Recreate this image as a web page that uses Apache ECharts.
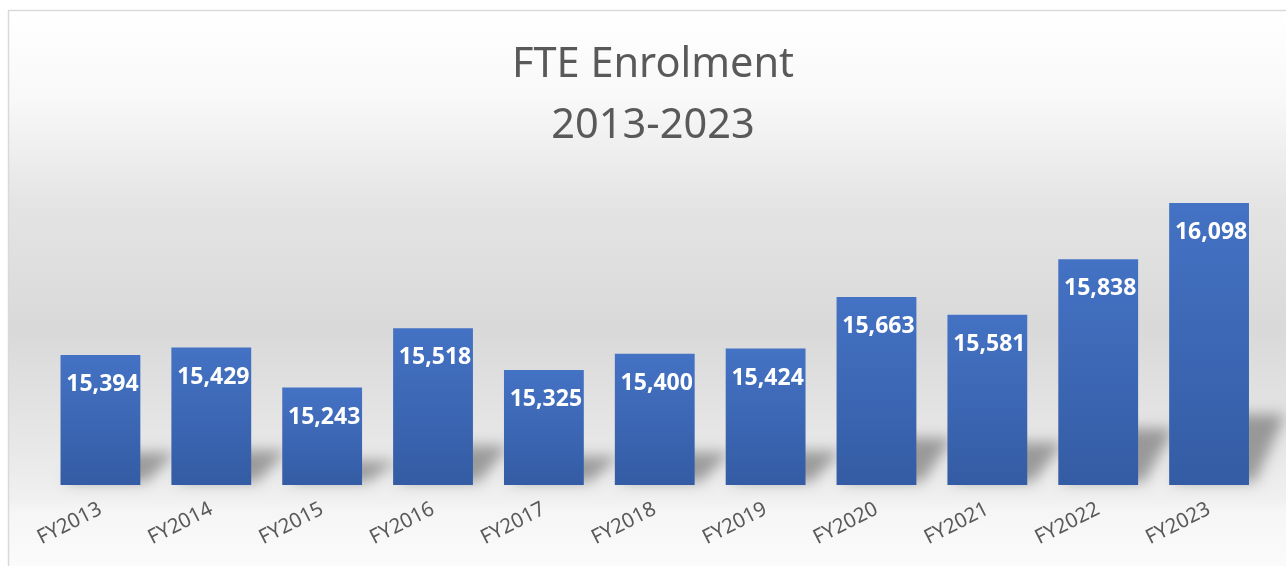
<!DOCTYPE html>
<html>
<head>
<meta charset="utf-8">
<script src="https://cdn.jsdelivr.net/npm/echarts@6/dist/echarts.min.js"></script>
<style>html,body{margin:0;padding:0;background:#fff;}#c{width:1286px;height:566px;}</style>
</head>
<body>
<div id="c"></div>
<script>
const categories = ['FY2013','FY2014','FY2015','FY2016','FY2017','FY2018','FY2019','FY2020','FY2021','FY2022','FY2023'];
const enrolment = [15394, 15429, 15243, 15518, 15325, 15400, 15424, 15663, 15581, 15838, 16098];
const titleLines = ['FTE Enrolment', '2013-2023'];

const chart = echarts.init(document.getElementById('c'), null, {renderer: 'canvas'});
const yMin = 14792, yMax = 16575;

chart.setOption({
  animation: false,
  backgroundColor: 'transparent',
  graphic: [{
    type: 'rect', z: -10, silent: true,
    shape: {x: 8.5, y: 10.5, width: 1290, height: 570},
    style: {
      fill: new echarts.graphic.LinearGradient(0, 0, 0, 1, [
        {offset: 0, color: '#ffffff'},
        {offset: 0.16, color: '#f8f8f8'},
        {offset: 0.34, color: '#e4e4e4'},
        {offset: 0.56, color: '#d9d9d9'},
        {offset: 0.77, color: '#e8e8e8'},
        {offset: 0.855, color: '#f0f0f0'},
        {offset: 0.88, color: '#f6f6f6'},
        {offset: 1, color: '#fcfcfc'}
      ]),
      stroke: '#d9d9d9', lineWidth: 1.5
    }
  }],
  title: {
    text: titleLines.join('\n'),
    left: 648, top: 30, textAlign: 'center',
    textStyle: {fontFamily: 'Noto Sans', fontSize: 41.5, fontWeight: 'normal', color: '#595959', lineHeight: 61}
  },
  grid: {left: 45, right: 21.5, top: 100, bottom: 81},
  xAxis: {
    type: 'category', data: categories,
    axisLine: {show: false}, axisTick: {show: false},
    axisLabel: {rotate: 27, margin: 23, fontFamily: 'Noto Sans', fontSize: 20.5, color: '#595959', interval: 0}
  },
  yAxis: {type: 'value', min: yMin, max: yMax, show: false, splitLine: {show: false}},
  series: [{
    type: 'custom', z: 1, silent: true,
    data: enrolment,
    renderItem: function (params, api) {
      const i = api.value(0), v = api.value(1);
      const top = api.coord([i, v]);
      const base = api.coord([i, yMin]);
      const w = api.size([1, 0])[0] * 0.72;
      const h = base[1] - top[1];
      const hs = h * 0.25, dx = 30, off = 3000;
      const xl = base[0] - w / 2 + 4, xr = base[0] + w / 2 + 6;
      return {
        type: 'polygon',
        shape: {points: [[xl - off, base[1] - 3], [xr - off, base[1] - 3], [xr + dx - off, base[1] - hs], [xl + dx - off, base[1] - hs]]},
        style: {fill: '#000', shadowColor: 'rgba(0,0,0,0.34)', shadowBlur: 14, shadowOffsetX: off, shadowOffsetY: 0}
      };
    }
  }, {
    type: 'bar', z: 2,
    data: enrolment,
    barCategoryGap: '28%',
    itemStyle: {
      color: new echarts.graphic.LinearGradient(0, 0, 0, 1, [
        {offset: 0, color: '#4472c4'},
        {offset: 1, color: '#345ca4'}
      ])
    },
    label: {
      show: true, position: 'insideTop', distance: 18, offset: [2, 0],
      fontFamily: 'Noto Sans', fontSize: 23, fontWeight: 'bold', color: '#ffffff',
      formatter: p => p.value.toLocaleString('en-US')
    }
  }]
});
</script>
</body>
</html>
